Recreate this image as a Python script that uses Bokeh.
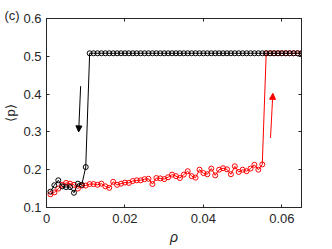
from bokeh.plotting import figure
from bokeh.models import Range1d, LinearAxis, FixedTicker, Arrow, NormalHead, Title
from bokeh.embed import file_html
from bokeh.resources import INLINE

rho = [0.001, 0.002, 0.003, 0.004, 0.005, 0.006, 0.007, 0.008, 0.009, 0.010,
       0.011, 0.012, 0.013, 0.014, 0.015, 0.016, 0.017, 0.018, 0.019, 0.020,
       0.021, 0.022, 0.023, 0.024, 0.025, 0.026, 0.027, 0.028, 0.029, 0.030,
       0.031, 0.032, 0.033, 0.034, 0.035, 0.036, 0.037, 0.038, 0.039, 0.040,
       0.041, 0.042, 0.043, 0.044, 0.045, 0.046, 0.047, 0.048, 0.049, 0.050,
       0.051, 0.052, 0.053, 0.054, 0.055, 0.056, 0.057, 0.058, 0.059, 0.060,
       0.061, 0.062, 0.063, 0.064, 0.065]

p_black = [0.142, 0.159, 0.172, 0.156, 0.154, 0.154, 0.139, 0.163, 0.160, 0.207,
           0.508, 0.508, 0.508, 0.508, 0.508, 0.508, 0.508, 0.508, 0.508, 0.508,
           0.508, 0.508, 0.508, 0.508, 0.508, 0.508, 0.508, 0.508, 0.508, 0.508,
           0.508, 0.508, 0.508, 0.508, 0.508, 0.508, 0.508, 0.508, 0.508, 0.508,
           0.508, 0.508, 0.508, 0.508, 0.508, 0.508, 0.508, 0.508, 0.508, 0.508,
           0.508, 0.508, 0.508, 0.508, 0.508, 0.508, 0.508, 0.508, 0.508, 0.508,
           0.508, 0.508, 0.508, 0.508, 0.508]

p_red = [0.135, 0.140, 0.150, 0.160, 0.165, 0.163, 0.160, 0.150, 0.158, 0.158,
         0.162, 0.162, 0.160, 0.163, 0.156, 0.152, 0.168, 0.160, 0.163, 0.166,
         0.165, 0.170, 0.172, 0.172, 0.175, 0.176, 0.162, 0.178, 0.177, 0.175,
         0.180, 0.187, 0.183, 0.178, 0.187, 0.196, 0.183, 0.179, 0.200, 0.191,
         0.188, 0.203, 0.185, 0.200, 0.204, 0.201, 0.188, 0.209, 0.194, 0.200,
         0.196, 0.203, 0.213, 0.200, 0.214, 0.508, 0.508, 0.508, 0.508, 0.508,
         0.508, 0.508, 0.508, 0.508, 0.508]

x_ticks = [0, 0.02, 0.04, 0.06]
x_tick_labels = ["0", "0.02", "0.04", "0.06"]
y_ticks = [0.1, 0.2, 0.3, 0.4, 0.5, 0.6]
y_tick_labels = ["0.1", "0.2", "0.3", "0.4", "0.5", "0.6"]

# arrows (start -> end) in data coordinates
black_arrow = (0.0087, 0.421, 0.0082, 0.300)
red_arrow = (0.0571, 0.284, 0.0577, 0.402)

AX = "#262626"
FONT = "Liberation Sans"

p = figure(width=332, height=249, output_backend="svg", toolbar_location=None,
           x_range=Range1d(0, 0.065), y_range=Range1d(0.1, 0.6),
           x_axis_location=None, y_axis_location=None,
           min_border_left=45, min_border_right=31, min_border_top=18,
           min_border_bottom=42)
p.grid.visible = False
p.outline_line_color = AX
p.outline_line_width = 1
p.background_fill_color = "white"
p.border_fill_color = "white"


def make_axis(ticks, labels, show_labels):
    ax = LinearAxis(ticker=FixedTicker(ticks=ticks))
    ax.major_label_overrides = {t: l for t, l in zip(ticks, labels)}
    ax.axis_line_color = AX
    ax.major_tick_line_color = AX
    ax.major_tick_in = 3
    ax.major_tick_out = 0
    ax.minor_tick_line_color = None
    ax.major_label_text_font = FONT
    ax.major_label_text_color = AX
    ax.axis_label_text_font = FONT
    ax.axis_label_text_color = AX
    if show_labels:
        ax.major_label_text_font_size = "13px"
    else:
        ax.major_label_text_font_size = "0px"
        ax.major_label_standoff = 0
    return ax


xb = make_axis(x_ticks, x_tick_labels, True)
xb.major_label_standoff = 6
xb.axis_label = "ρ"
xb.axis_label_text_font_size = "14px"
xb.axis_label_text_font_style = "italic"
xb.axis_label_standoff = 3
yl = make_axis(y_ticks, y_tick_labels, True)
yl.major_label_standoff = 5
yl.axis_label = "⟨p⟩"
yl.axis_label_text_font_size = "13px"
yl.axis_label_text_font_style = "normal"
yl.axis_label_standoff = 2
xa = make_axis(x_ticks, x_tick_labels, False)
yr = make_axis(y_ticks, y_tick_labels, False)
p.add_layout(xb, "below")
p.add_layout(yl, "left")
p.add_layout(xa, "above")
p.add_layout(yr, "right")

# red series (increasing rho)
p.line(rho, p_red, line_color="red", line_width=1)
p.scatter(rho, p_red, marker="circle", size=5, fill_color=None,
          line_color="red", line_width=1)
# black series (decreasing rho)
p.line(rho, p_black, line_color="black", line_width=1)
p.scatter(rho, p_black, marker="circle", size=5, fill_color=None,
          line_color="black", line_width=1)

p.add_layout(Arrow(end=NormalHead(size=6, fill_color="black", line_color="black"),
                   x_start=black_arrow[0], y_start=black_arrow[1],
                   x_end=black_arrow[2], y_end=black_arrow[3],
                   line_color="black", line_width=1))
p.add_layout(Arrow(end=NormalHead(size=6, fill_color="red", line_color="red"),
                   x_start=red_arrow[0], y_start=red_arrow[1],
                   x_end=red_arrow[2], y_end=red_arrow[3],
                   line_color="red", line_width=1))

p.add_layout(Title(text="(c)", align="left", offset=-42, standoff=-8,
                   text_font=FONT, text_font_size="13px",
                   text_font_style="normal", text_color=AX), "above")

open("out.html", "w").write(file_html(p, INLINE))
